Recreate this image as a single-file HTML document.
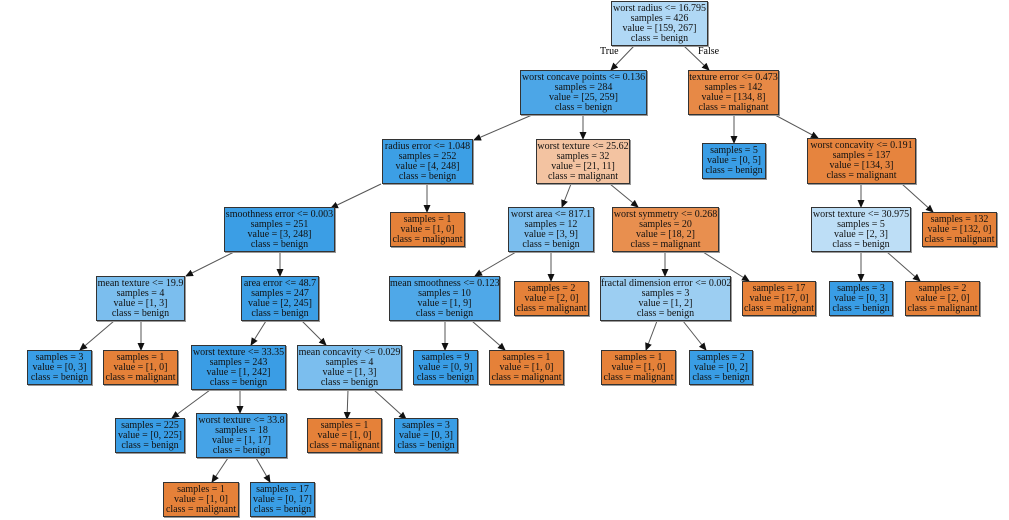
<!DOCTYPE html>
<html><head><meta charset="utf-8"><style>
body{margin:0;background:#fff;width:1009px;height:520px;position:relative;overflow:hidden;font-family:"Liberation Serif",serif;}
.n{position:absolute;box-sizing:border-box;border:1px solid #333;box-shadow:1px 1px 0 #999;font-size:10px;line-height:10px;color:#111;text-align:center;display:flex;flex-direction:column;justify-content:center;white-space:nowrap;}
.b{background:#399de5}.o{background:#e58139}
svg{position:absolute;left:0;top:0}
.l{position:absolute;font-size:10px;}
</style></head><body>
<svg width="1009" height="520">
<defs><marker id="a" markerWidth="8" markerHeight="8" refX="7" refY="4" orient="auto" markerUnits="userSpaceOnUse"><path d="M0,0.5 L8,4 L0,7.5z" fill="#111"/></marker></defs>
<g stroke="#555" stroke-width="1" marker-end="url(#a)">
<line x1="634" y1="46" x2="611" y2="70"/><line x1="684" y1="46" x2="709" y2="70"/>
<line x1="532" y1="115" x2="474" y2="140"/><line x1="583" y1="115" x2="583" y2="139"/>
<line x1="381" y1="184" x2="331" y2="208"/><line x1="427" y1="184" x2="427" y2="212"/>
<line x1="234" y1="252" x2="186" y2="276"/><line x1="280" y1="252" x2="280" y2="276"/>
<line x1="114" y1="321" x2="80" y2="350"/><line x1="141" y1="321" x2="141" y2="350"/>
<line x1="266" y1="321" x2="251" y2="345"/><line x1="302" y1="321" x2="326" y2="345"/>
<line x1="210" y1="390" x2="172" y2="418"/><line x1="240" y1="390" x2="240" y2="413"/>
<line x1="228" y1="458" x2="212" y2="482"/><line x1="256" y1="458" x2="270" y2="482"/>
<line x1="348" y1="390" x2="347" y2="419"/><line x1="374" y1="390" x2="406" y2="419"/>
<line x1="571" y1="184" x2="562" y2="207"/><line x1="610" y1="184" x2="638" y2="207"/>
<line x1="516" y1="252" x2="475" y2="276"/><line x1="551" y1="252" x2="551" y2="281"/>
<line x1="445" y1="321" x2="445" y2="350"/><line x1="472" y1="321" x2="505" y2="350"/>
<line x1="665" y1="252" x2="665" y2="276"/><line x1="703" y1="252" x2="749" y2="281"/>
<line x1="657" y1="321" x2="646" y2="350"/><line x1="683" y1="321" x2="706" y2="350"/>
<line x1="734" y1="115" x2="734" y2="143"/><line x1="775" y1="115" x2="818" y2="138"/>
<line x1="861" y1="184" x2="861" y2="207"/><line x1="902" y1="184" x2="933" y2="212"/>
<line x1="861" y1="252" x2="861" y2="281"/><line x1="887" y1="252" x2="920" y2="281"/>
</g></svg>
<div class="l" style="left:600px;top:46px">True</div>
<div class="l" style="left:698px;top:46px">False</div>

<div class="n" style="left:611px;top:1px;width:97px;height:45px;background:#b0d8f5">worst radius &lt;= 16.795<br>samples = 426<br>value = [159, 267]<br>class = benign</div>
<div class="n" style="left:520px;top:70px;width:127px;height:45px;background:#4ca6e7">worst concave points &lt;= 0.136<br>samples = 284<br>value = [25, 259]<br>class = benign</div>
<div class="n" style="left:688px;top:70px;width:91px;height:45px;background:#e78946">texture error &lt;= 0.473<br>samples = 142<br>value = [134, 8]<br>class = malignant</div>
<div class="n" style="left:382px;top:139px;width:91px;height:45px;background:#3c9fe5">radius error &lt;= 1.048<br>samples = 252<br>value = [4, 248]<br>class = benign</div>
<div class="n" style="left:536px;top:139px;width:94px;height:45px;background:#f3c3a1">worst texture &lt;= 25.62<br>samples = 32<br>value = [21, 11]<br>class = malignant</div>
<div class="n b" style="left:702px;top:143px;width:64px;height:36px">samples = 5<br>value = [0, 5]<br>class = benign</div>
<div class="n" style="left:807px;top:138px;width:109px;height:46px;background:#e6843e">worst concavity &lt;= 0.191<br>samples = 137<br>value = [134, 3]<br>class = malignant</div>
<div class="n" style="left:224px;top:207px;width:111px;height:45px;background:#3b9ee5">smoothness error &lt;= 0.003<br>samples = 251<br>value = [3, 248]<br>class = benign</div>
<div class="n o" style="left:390px;top:212px;width:75px;height:35px">samples = 1<br>value = [1, 0]<br>class = malignant</div>
<div class="n" style="left:508px;top:207px;width:86px;height:45px;background:#7bbeee">worst area &lt;= 817.1<br>samples = 12<br>value = [3, 9]<br>class = benign</div>
<div class="n" style="left:612px;top:207px;width:107px;height:45px;background:#e88f4f">worst symmetry &lt;= 0.268<br>samples = 20<br>value = [18, 2]<br>class = malignant</div>
<div class="n" style="left:811px;top:207px;width:100px;height:45px;background:#bddef6">worst texture &lt;= 30.975<br>samples = 5<br>value = [2, 3]<br>class = benign</div>
<div class="n o" style="left:922px;top:212px;width:75px;height:35px">samples = 132<br>value = [132, 0]<br>class = malignant</div>
<div class="n" style="left:96px;top:276px;width:89px;height:45px;background:#7bbeee">mean texture &lt;= 19.9<br>samples = 4<br>value = [1, 3]<br>class = benign</div>
<div class="n" style="left:241px;top:276px;width:78px;height:45px;background:#3b9ee5">area error &lt;= 48.7<br>samples = 247<br>value = [2, 245]<br>class = benign</div>
<div class="n" style="left:389px;top:276px;width:111px;height:45px;background:#4fa8e8">mean smoothness &lt;= 0.123<br>samples = 10<br>value = [1, 9]<br>class = benign</div>
<div class="n o" style="left:514px;top:281px;width:75px;height:35px">samples = 2<br>value = [2, 0]<br>class = malignant</div>
<div class="n" style="left:600px;top:276px;width:131px;height:45px;background:#9ccef2">fractal dimension error &lt;= 0.002<br>samples = 3<br>value = [1, 2]<br>class = benign</div>
<div class="n o" style="left:742px;top:281px;width:74px;height:35px">samples = 17<br>value = [17, 0]<br>class = malignant</div>
<div class="n b" style="left:829px;top:281px;width:64px;height:35px">samples = 3<br>value = [0, 3]<br>class = benign</div>
<div class="n o" style="left:905px;top:281px;width:75px;height:35px">samples = 2<br>value = [2, 0]<br>class = malignant</div>
<div class="n b" style="left:27px;top:350px;width:65px;height:35px">samples = 3<br>value = [0, 3]<br>class = benign</div>
<div class="n o" style="left:103px;top:350px;width:75px;height:35px">samples = 1<br>value = [1, 0]<br>class = malignant</div>
<div class="n" style="left:191px;top:345px;width:95px;height:45px;background:#3a9de5">worst texture &lt;= 33.35<br>samples = 243<br>value = [1, 242]<br>class = benign</div>
<div class="n" style="left:297px;top:345px;width:105px;height:45px;background:#7bbeee">mean concavity &lt;= 0.029<br>samples = 4<br>value = [1, 3]<br>class = benign</div>
<div class="n b" style="left:413px;top:350px;width:65px;height:35px">samples = 9<br>value = [0, 9]<br>class = benign</div>
<div class="n o" style="left:489px;top:350px;width:75px;height:35px">samples = 1<br>value = [1, 0]<br>class = malignant</div>
<div class="n o" style="left:601px;top:350px;width:75px;height:35px">samples = 1<br>value = [1, 0]<br>class = malignant</div>
<div class="n b" style="left:689px;top:350px;width:64px;height:35px">samples = 2<br>value = [0, 2]<br>class = benign</div>
<div class="n b" style="left:115px;top:418px;width:70px;height:35px">samples = 225<br>value = [0, 225]<br>class = benign</div>
<div class="n" style="left:196px;top:413px;width:91px;height:45px;background:#45a3e7">worst texture &lt;= 33.8<br>samples = 18<br>value = [1, 17]<br>class = benign</div>
<div class="n o" style="left:307px;top:418px;width:75px;height:35px">samples = 1<br>value = [1, 0]<br>class = malignant</div>
<div class="n b" style="left:394px;top:418px;width:64px;height:35px">samples = 3<br>value = [0, 3]<br>class = benign</div>
<div class="n o" style="left:163px;top:482px;width:76px;height:35px">samples = 1<br>value = [1, 0]<br>class = malignant</div>
<div class="n b" style="left:250px;top:482px;width:65px;height:35px">samples = 17<br>value = [0, 17]<br>class = benign</div>
</body></html>
